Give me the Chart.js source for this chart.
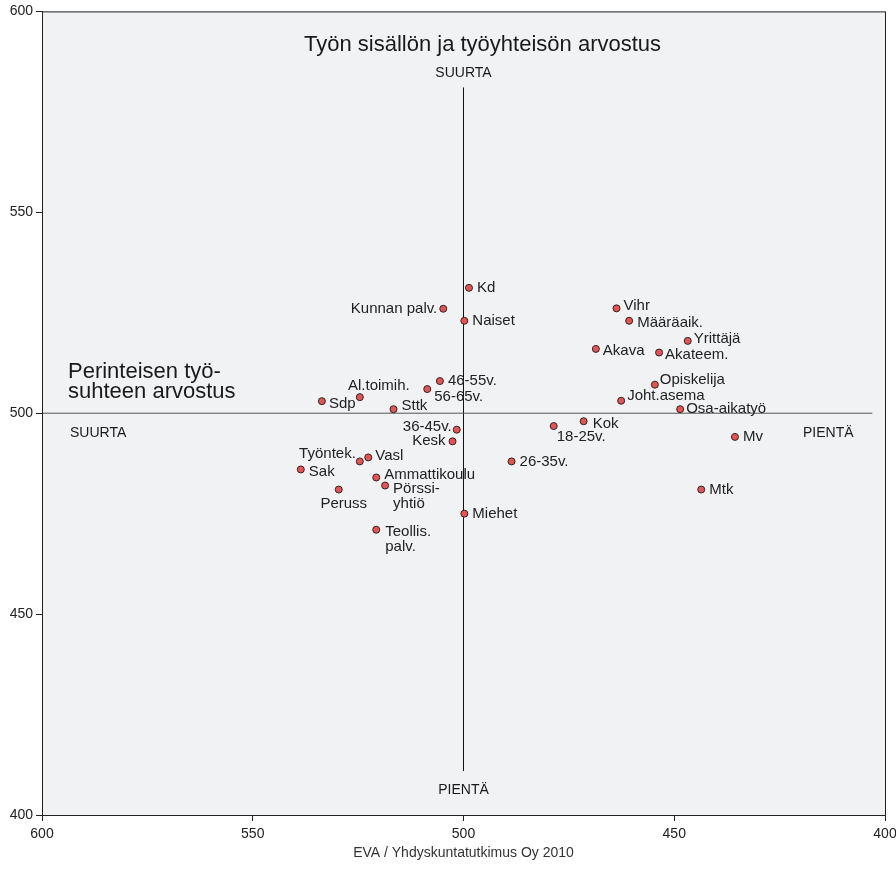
<!DOCTYPE html>
<html>
<head>
<meta charset="utf-8">
<script src="https://cdn.jsdelivr.net/npm/chart.js@4/dist/chart.umd.min.js"></script>
<style>
  html, body { margin: 0; padding: 0; background: #fff; }
  #wrap { width: 896px; height: 881px; }
</style>
</head>
<body>
<div id="wrap"><canvas id="chart" width="896" height="881"></canvas></div>
<script>
// Groups (labels) and their scores
const labels = [
  'Kd', 'Kunnan palv.', 'Naiset', 'Vihr', 'Määräaik.', 'Yrittäjä', 'Akava', 'Akateem.',
  'Opiskelija', 'Joht.asema', 'Osa-aikatyö', 'Kok', '18-25v.', 'Mv', 'Mtk', '26-35v.',
  '46-55v.', '56-65v.', 'Al.toimih.', 'Sdp', 'Sttk', '36-45v.', 'Kesk', 'Työntek.',
  'Vasl', 'Sak', 'Ammattikoulu', 'Pörssi-\nyhtiö', 'Peruss', 'Miehet', 'Teollis.\npalv.'
];
// x: perinteisen työsuhteen arvostus (axis reversed)
const xValues = [
  498.7, 504.8, 499.8, 463.7, 460.7, 446.8, 468.6, 453.6,
  454.6, 462.6, 448.6, 471.5, 478.6, 435.6, 443.6, 488.6,
  505.6, 508.6, 524.6, 533.6, 516.6, 501.6, 502.6, 524.6,
  522.6, 538.6, 520.7, 518.6, 529.6, 499.8, 520.7
];
// y: työn sisällön ja työyhteisön arvostus
const yValues = [
  531.2, 526.0, 523.0, 526.1, 523.0, 518.0, 516.0, 515.1,
  507.1, 503.1, 501.0, 498.0, 496.8, 494.1, 481.0, 488.0,
  508.0, 506.0, 504.0, 503.0, 501.0, 495.9, 493.0, 488.0,
  489.0, 486.0, 484.0, 482.0, 481.0, 475.0, 471.0
];
const xTicks = [400, 450, 500, 550, 600];
const yTicks = [400, 450, 500, 550, 600];

// Cross lines through the middle
const hLineX = [600, 403];
const hLineY = [500, 500];
const vLineX = [500, 500];
const vLineY = [581, 411];

// Where each label sits relative to its point: [align, dx, dy]
const labelPlace = {
  'Kunnan palv.': ['right', -6, 0],
  'Vihr': ['left', 7, -2],
  'Määräaik.': ['left', 8, 2],
  'Yrittäjä': ['left', 6, -2],
  'Akava': ['left', 7, 2],
  'Akateem.': ['left', 6, 2],
  'Opiskelija': ['left', 5, -5],
  'Joht.asema': ['left', 6, -5],
  'Osa-aikatyö': ['left', 6, 0],
  'Kok': ['left', 9, 3],
  '18-25v.': ['left', 3, 11],
  '56-65v.': ['left', 7, 8],
  'Al.toimih.': ['center', 19, -11],
  'Sdp': ['left', 7, 3],
  'Sttk': ['left', 8, -3],
  '36-45v.': ['right', -5, -3],
  'Kesk': ['right', -7, 0],
  'Työntek.': ['right', -4, -8],
  'Vasl': ['left', 7, -2],
  'Sak': ['left', 8, 2],
  'Ammattikoulu': ['left', 8, -3],
  'Pörssi-\nyhtiö': ['left', 8, 3],
  'Peruss': ['center', 5, 14],
  'Teollis.\npalv.': ['left', 9, 2]
};

const FONT = '"Liberation Sans", Arial, sans-serif';

const plotBox = {
  id: 'plotBox',
  beforeDraw(chart) {
    const { ctx, chartArea: a } = chart;
    ctx.save();
    ctx.fillStyle = '#f1f2f4';
    ctx.fillRect(a.left, a.top, a.right - a.left, a.bottom - a.top);
    ctx.restore();
  },
  afterDraw(chart) {
    const { ctx, chartArea: a, scales } = chart;
    ctx.save();
    ctx.strokeStyle = '#222';
    ctx.lineWidth = 1;
    ctx.strokeRect(a.left + 0.5, a.top + 0.5, a.right - a.left, a.bottom - a.top);

    ctx.fillStyle = '#1a1a1a';
    ctx.textBaseline = 'middle';
    const cx = scales.x.getPixelForValue(500);

    ctx.font = '22px ' + FONT;
    ctx.textAlign = 'center';
    ctx.fillText('Työn sisällön ja työyhteisön arvostus', cx + 19, a.top + 34);

    ctx.font = '14px ' + FONT;
    ctx.fillText('SUURTA', cx, a.top + 62);
    ctx.fillText('PIENTÄ', cx, a.bottom - 25);
    ctx.textAlign = 'left';
    ctx.fillText('SUURTA', a.left + 28, 433);
    ctx.fillText('PIENTÄ', a.right - 82, 433);

    ctx.font = '22px ' + FONT;
    ctx.fillText('Perinteisen työ-', a.left + 26, 372);
    ctx.fillText('suhteen arvostus', a.left + 26, 392);

    ctx.font = '14px ' + FONT;
    ctx.fillStyle = '#333';
    ctx.textAlign = 'center';
    ctx.fillText('EVA / Yhdyskuntatutkimus Oy 2010', (a.left + a.right) / 2, 853);
    ctx.restore();
  }
};

const pointLabels = {
  id: 'pointLabels',
  afterDatasetsDraw(chart) {
    const { ctx } = chart;
    const meta = chart.getDatasetMeta(0);
    ctx.save();
    ctx.font = '15px ' + FONT;
    ctx.fillStyle = '#222';
    ctx.textBaseline = 'middle';
    meta.data.forEach((pt, i) => {
      const name = labels[i];
      const [align, dx, dy] = labelPlace[name] || ['left', 8, 0];
      ctx.textAlign = align;
      name.split('\n').forEach((line, j) => {
        ctx.fillText(line, pt.x + dx, pt.y + dy + j * 15);
      });
    });
    ctx.restore();
  }
};

new Chart(document.getElementById('chart').getContext('2d'), {
  type: 'scatter',
  data: {
    datasets: [
      {
        data: xValues.map((x, i) => ({ x, y: yValues[i] })),
        backgroundColor: '#e05656',
        borderColor: '#3a2020',
        borderWidth: 1,
        pointRadius: 3.5,
        order: 0
      },
      {
        data: hLineX.map((x, i) => ({ x, y: hLineY[i] })),
        showLine: true,
        borderColor: '#555',
        borderWidth: 1,
        pointRadius: 0,
        order: 1
      },
      {
        data: vLineX.map((x, i) => ({ x, y: vLineY[i] })),
        showLine: true,
        borderColor: '#111',
        borderWidth: 1,
        pointRadius: 0,
        order: 1
      }
    ]
  },
  options: {
    responsive: false,
    animation: false,
    events: [],
    layout: { padding: { top: 10, right: 11, left: 0, bottom: 0 } },
    plugins: {
      legend: { display: false },
      tooltip: { enabled: false }
    },
    scales: {
      x: {
        type: 'linear',
        reverse: true,
        min: 400,
        max: 600,
        afterBuildTicks: s => { s.ticks = xTicks.map(v => ({ value: v })); },
        afterFit: s => { s.height = 66; },
        ticks: { color: '#222', font: { size: 14, family: FONT }, padding: 5 },
        grid: { drawOnChartArea: false, drawTicks: true, tickLength: 6, color: '#222' },
        border: { display: true, color: '#222' }
      },
      y: {
        type: 'linear',
        min: 400,
        max: 600,
        afterBuildTicks: s => { s.ticks = yTicks.map(v => ({ value: v })); },
        afterFit: s => { s.width = 42; },
        ticks: { color: '#222', font: { size: 14, family: FONT }, padding: 3 },
        grid: { drawOnChartArea: false, drawTicks: true, tickLength: 6, color: '#222' },
        border: { display: true, color: '#222' }
      }
    }
  },
  plugins: [plotBox, pointLabels]
});
</script>
</body>
</html>
